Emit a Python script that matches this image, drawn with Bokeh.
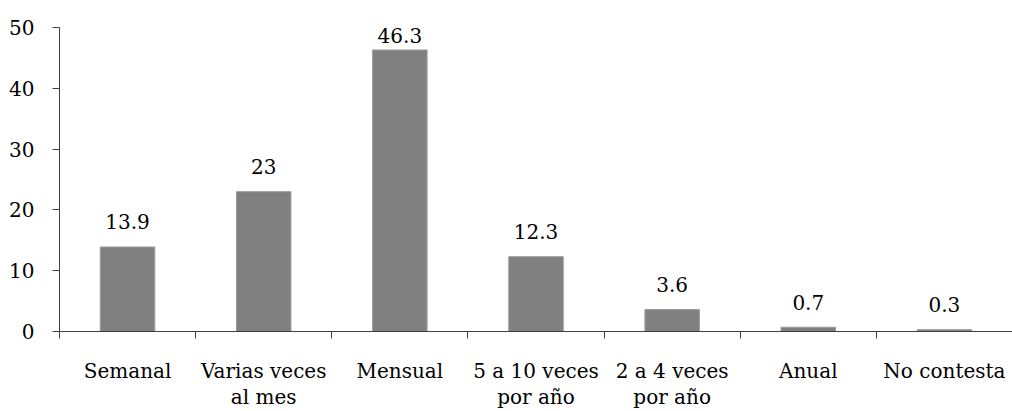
from bokeh.plotting import figure
from bokeh.models import ColumnDataSource, FixedTicker, Range1d
from bokeh.core.properties import value
from bokeh.embed import file_html
from bokeh.resources import INLINE

categories = ["Semanal", "Varias veces\nal mes", "Mensual", "5 a 10 veces\npor año",
              "2 a 4 veces\npor año", "Anual", "No contesta"]
values = [13.9, 23, 46.3, 12.3, 3.6, 0.7, 0.3]
y_ticks = [0, 10, 20, 30, 40, 50]

FONT = "DejaVu Serif"
n = len(categories)
y_max = 50

W, H = 1012, 411
B_LEFT, B_TOP, B_BOTTOM = 59, 27, 80
p = figure(width=W, height=H, output_backend="svg", toolbar_location=None,
           x_range=Range1d(0, n), y_range=Range1d(0, y_max),
           min_border_left=B_LEFT, min_border_right=0, min_border_top=B_TOP,
           min_border_bottom=B_BOTTOM)
p.outline_line_color = None
p.xgrid.visible = False
p.ygrid.visible = False
p.background_fill_color = "white"
p.border_fill_color = "white"

xs = [i + 0.5 for i in range(n)]
frame_h = H - B_TOP - B_BOTTOM
px_per_unit = frame_h / y_max
GAP, TOP_PAD = 25, 8
label_y = [min(v + GAP / px_per_unit, y_max - TOP_PAD / px_per_unit) for v in values]
src = ColumnDataSource(dict(x=xs, top=values, ly=label_y, lab=[f"{v:g}" for v in values]))

p.vbar(x="x", top="top", bottom=0, width=0.4, source=src,
       fill_color="#808080", line_color="#9a9a9a", line_width=1)
p.text(x="x", y="ly", text="lab", source=src, text_align="center",
       text_baseline="alphabetic", text_font=value(FONT), text_font_size="20px",
       text_color="black")

# x axis
xa = p.xaxis[0]
xa.ticker = FixedTicker(ticks=xs, minor_ticks=list(range(n + 1)))
xa.major_label_overrides = {x: c for x, c in zip(xs, categories)}
xa.major_tick_out = 0
xa.major_tick_in = 0
xa.minor_tick_out = 7
xa.minor_tick_in = 0
xa.minor_tick_line_color = "#404040"
xa.axis_line_color = "#404040"
xa.major_label_standoff = 20
xa.major_label_text_font = FONT
xa.major_label_text_font_size = "20px"
xa.major_label_text_color = "black"
xa.major_label_text_line_height = 1.1

# y axis
ya = p.yaxis[0]
ya.ticker = FixedTicker(ticks=y_ticks, minor_ticks=[])
ya.major_tick_out = 7
ya.major_tick_in = 0
ya.minor_tick_out = 0
ya.minor_tick_in = 0
ya.major_tick_line_color = "#404040"
ya.axis_line_color = "#404040"
ya.major_label_standoff = 18
ya.major_label_text_font = FONT
ya.major_label_text_font_size = "20px"
ya.major_label_text_color = "black"

open("out.html", "w").write(file_html(p, INLINE))
